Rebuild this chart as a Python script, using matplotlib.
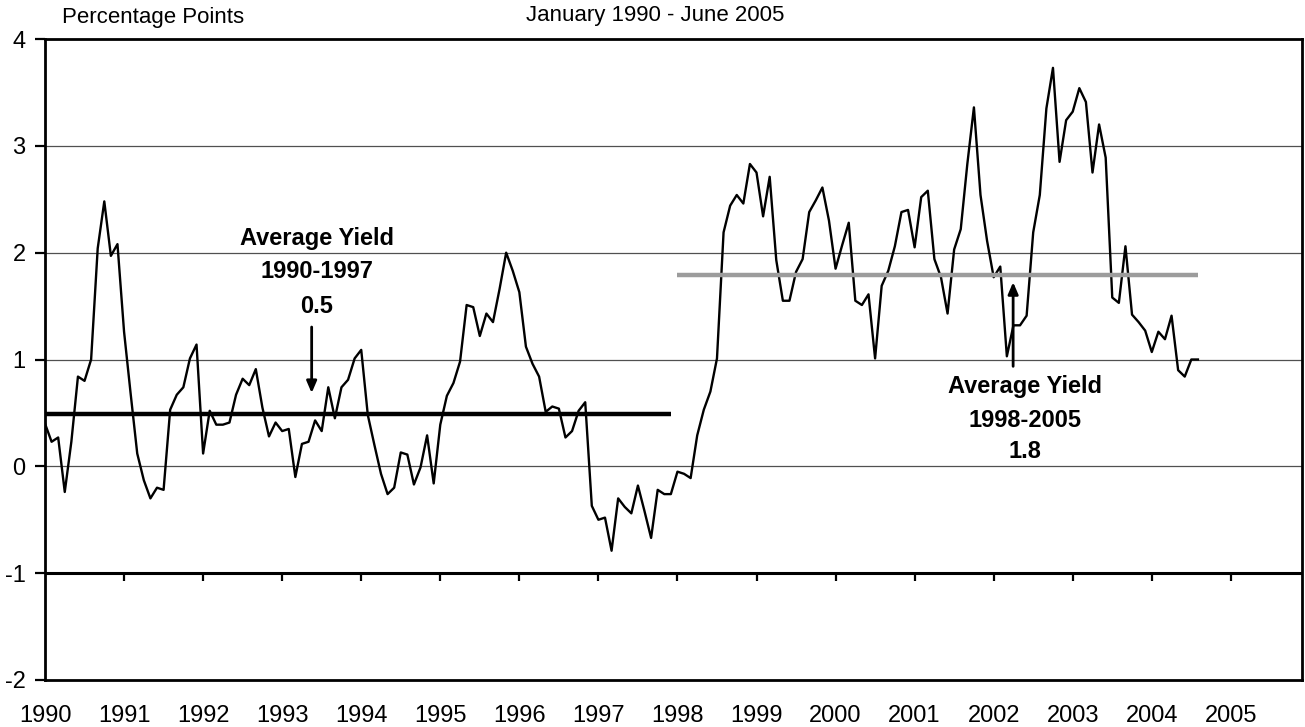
import matplotlib
matplotlib.use("Agg")
import matplotlib.pyplot as plt
import numpy as np

plt.rcParams['font.family'] = ['Liberation Sans', 'DejaVu Sans']

# ---- data (monthly, starting January 1990) ----
spread = [
    0.40, 0.23, 0.27, -0.24, 0.23, 0.84, 0.80, 1.00, 2.04, 2.48, 1.97, 2.08,
    1.26, 0.68, 0.12, -0.13, -0.30, -0.20, -0.22, 0.53, 0.67, 0.74, 1.01, 1.14,
    0.12, 0.52, 0.39, 0.39, 0.41, 0.67, 0.82, 0.76, 0.91, 0.55, 0.28, 0.41,
    0.33, 0.35, -0.10, 0.21, 0.23, 0.43, 0.33, 0.74, 0.45, 0.74, 0.81, 1.01,
    1.09, 0.48, 0.20, -0.07, -0.26, -0.20, 0.13, 0.11, -0.17, -0.01, 0.29, -0.16,
    0.39, 0.66, 0.78, 0.98, 1.51, 1.49, 1.22, 1.43, 1.35, 1.66, 2.00, 1.83,
    1.63, 1.12, 0.96, 0.84, 0.51, 0.56, 0.54, 0.27, 0.33, 0.52, 0.60, -0.37,
    -0.50, -0.48, -0.79, -0.30, -0.38, -0.44, -0.18, -0.42, -0.67, -0.22, -0.26, -0.26,
    -0.05, -0.07, -0.11, 0.29, 0.53, 0.70, 1.01, 2.19, 2.44, 2.54, 2.46, 2.83,
    2.75, 2.34, 2.71, 1.93, 1.55, 1.55, 1.82, 1.94, 2.38, 2.49, 2.61, 2.30,
    1.85, 2.07, 2.28, 1.55, 1.51, 1.61, 1.01, 1.69, 1.83, 2.06, 2.38, 2.40,
    2.05, 2.52, 2.58, 1.94, 1.77, 1.43, 2.03, 2.22, 2.83, 3.36, 2.54, 2.11,
    1.77, 1.87, 1.03, 1.32, 1.32, 1.41, 2.19, 2.54, 3.35, 3.73, 2.85, 3.24,
    3.32, 3.54, 3.41, 2.75, 3.20, 2.89, 1.58, 1.53, 2.06, 1.42, 1.35, 1.27,
    1.07, 1.26, 1.19, 1.41, 0.90, 0.84, 1.00, 1.00,
]
start_year = 1990
split_index = 96            # first month of the 1998-2005 period
avg_values = [0.49, 1.79]   # average lines 1990-1997, 1998-2005
avg_labels = ["Average Yield\n1990-1997\n0.5", "Average Yield\n1998-2005\n1.8"]
years = list(range(1990, 2006))
y_ticks = [-2, -1, 0, 1, 2, 3, 4]

x = start_year + np.arange(len(spread)) / 12.0

W, H = 1305, 727
fig = plt.figure(figsize=(W / 100, H / 100), dpi=100)
ax = fig.add_axes([45 / W, 1 - 680 / H, (1302 - 45) / W, (680 - 39) / H])

ax.set_xlim(1990, 2005.9)
ax.set_ylim(-2, 4)

# gridlines
for yv in [0, 1, 2, 3]:
    ax.axhline(yv, color='#505050', lw=0.9, zorder=1)
# category axis line at -1 with ticks hanging below
ax.axhline(-1, color='black', lw=2.2, zorder=4)
ax.vlines(years[1:], -1, -1.075, color='black', lw=1.6, zorder=4)

# data line
ax.plot(x, spread, color='black', lw=1.7, zorder=2)

# average lines
ax.plot([x[0], x[split_index - 1]], [avg_values[0]] * 2, color='black', lw=3.2,
        solid_capstyle='butt', zorder=3)
ax.plot([x[split_index], x[-1]], [avg_values[1]] * 2, color='#9c9c9c', lw=3.2,
        solid_capstyle='butt', zorder=3)

# annotations
fs_ann = 17
for line, yv in zip(avg_labels[0].split("\n"), [2.13, 1.82, 1.50]):
    ax.text(1993.436, yv, line, ha='center', va='center', fontsize=fs_ann, fontweight='bold')
for line, yv in zip(avg_labels[1].split("\n"), [0.75, 0.43, 0.14]):
    ax.text(2002.394, yv, line, ha='center', va='center', fontsize=fs_ann, fontweight='bold')

ax.annotate('', xy=(1993.373, 0.66), xytext=(1993.373, 1.33),
            arrowprops=dict(arrowstyle='-|>,head_length=0.7,head_width=0.3',
                            color='black', lw=2), zorder=5)
ax.annotate('', xy=(2002.246, 1.75), xytext=(2002.246, 0.91),
            arrowprops=dict(arrowstyle='-|>,head_length=0.7,head_width=0.3',
                            color='black', lw=2), zorder=5)

# axes styling
fs = 17
for s in ax.spines.values():
    s.set_linewidth(2)
    s.set_color('black')
ax.set_yticks(y_ticks)
ax.set_yticklabels([str(v) for v in y_ticks], fontsize=fs)
ax.tick_params(axis='y', direction='out', length=7, width=1.6, pad=7)
ax.set_xticks(years)
ax.set_xticklabels([str(y) for y in years], fontsize=fs)
ax.tick_params(axis='x', length=0, pad=18)

fig.text(62 / W, 1 - 17 / H, "Percentage Points", ha='left', va='center', fontsize=16)
fig.text(655 / W, 1 - 15 / H, "January 1990 - June 2005", ha='center', va='center', fontsize=16)

fig.savefig("out.png", dpi=100)
